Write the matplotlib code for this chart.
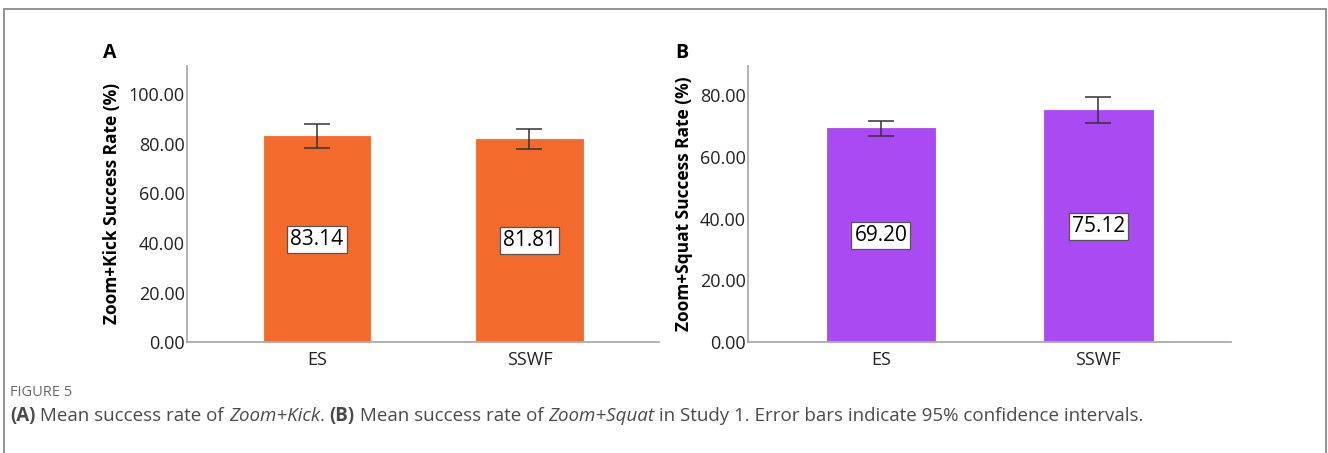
import numpy as np
import matplotlib
matplotlib.use("Agg")
import matplotlib.pyplot as plt
from matplotlib.patches import Rectangle

plt.rcParams['font.family'] = ['Open Sans', 'DejaVu Sans']

#data
groups = ['ES', 'SSWF']
kick_mean = [83.14, 81.81]
kick_lo = [78.3, 77.8]
kick_hi = [88.0, 86.1]
squat_mean = [69.20, 75.12]
squat_lo = [66.9, 70.9]
squat_hi = [71.5, 79.4]

orange = '#F26A2C'
purple = '#A94AF2'
spine_col = '#ABABAB'

fig = plt.figure(figsize=(13.28, 4.53), dpi=100)

#outer frame of the figure panel
fig.patches.append(Rectangle((4/1328, -0.1), 1322/1328, 1 - 9/453 + 0.1,
                             transform=fig.transFigure, fill=False,
                             edgecolor='#8a8a8a', linewidth=1.3))


def panel(ax, means, lo, hi, color, ymax, ticks, ylabel):
    x = np.arange(len(groups))
    ax.bar(x, means, width=0.5, color=color, edgecolor=color, linewidth=0.6, zorder=2)
    err = [np.array(means) - np.array(lo), np.array(hi) - np.array(means)]
    ax.errorbar(x, means, yerr=err, fmt='none', ecolor='#333333',
                elinewidth=1.1, capsize=9.5, capthick=1.1, zorder=3)
    for xi, m in zip(x, means):
        ax.text(xi, m / 2, '%.2f' % m, ha='center', va='center', fontsize=15,
                color='black', zorder=4,
                bbox=dict(boxstyle='square,pad=0.15', facecolor='white',
                          edgecolor='#555555', linewidth=0.9))
    ax.set_xlim(-0.61, 1.61)
    ax.set_ylim(0, ymax)
    ax.set_yticks(ticks)
    ax.set_yticklabels(['%.2f' % t for t in ticks])
    ax.set_xticks(x)
    ax.set_xticklabels(groups)
    ax.tick_params(axis='both', length=0, labelsize=13, colors='#222222')
    ax.tick_params(axis='y', pad=2)
    ax.tick_params(axis='x', pad=6)
    for s in ['top', 'right']:
        ax.spines[s].set_visible(False)
    for s in ['left', 'bottom']:
        ax.spines[s].set_color(spine_col)
        ax.spines[s].set_linewidth(1.3)
    ax.set_ylabel(ylabel, fontsize=12.5, fontweight='bold', labelpad=5)


axA = fig.add_axes([187.3/1328, 1 - 342.3/453, (659 - 187.3)/1328, (342.3 - 65.5)/453])
panel(axA, kick_mean, kick_lo, kick_hi, orange, 111.6,
      [0, 20, 40, 60, 80, 100], 'Zoom+Kick Success Rate (%)')

axB = fig.add_axes([748.3/1328, 1 - 342.3/453, (1231 - 748.3)/1328, (342.3 - 65.7)/453])
panel(axB, squat_mean, squat_lo, squat_hi, purple, 89.5,
      [0, 20, 40, 60, 80], 'Zoom+Squat Success Rate (%)')

#panel letters
fig.text(103/1328, 1 - 57.5/453, 'A', fontsize=14, fontweight='bold', va='baseline')
fig.text(675/1328, 1 - 57.5/453, 'B', fontsize=14, fontweight='bold', va='baseline')

#caption under the panels
fig.text(10/1328, 1 - 393/453, 'FIGURE 5', fontsize=10.5, color='#6a6a6a', va='center')

pieces = [('(A)', 'bold', 'normal'), (' Mean success rate of ', 'normal', 'normal'),
          ('Zoom+Kick', 'normal', 'italic'), ('. ', 'normal', 'normal'),
          ('(B)', 'bold', 'normal'), (' Mean success rate of ', 'normal', 'normal'),
          ('Zoom+Squat', 'normal', 'italic'),
          (' in Study 1. Error bars indicate 95% confidence intervals.', 'normal', 'normal')]
fig.canvas.draw()
renderer = fig.canvas.get_renderer()
xpos = 10
for txt, w, st in pieces:
    t = fig.text(xpos/1328, 1 - 416/453, txt, fontsize=13.5, color='#4a4a4a',
                 fontweight=w, fontstyle=st, va='center')
    bb = t.get_window_extent(renderer)
    xpos += bb.width

fig.savefig('out.png', dpi=100)
